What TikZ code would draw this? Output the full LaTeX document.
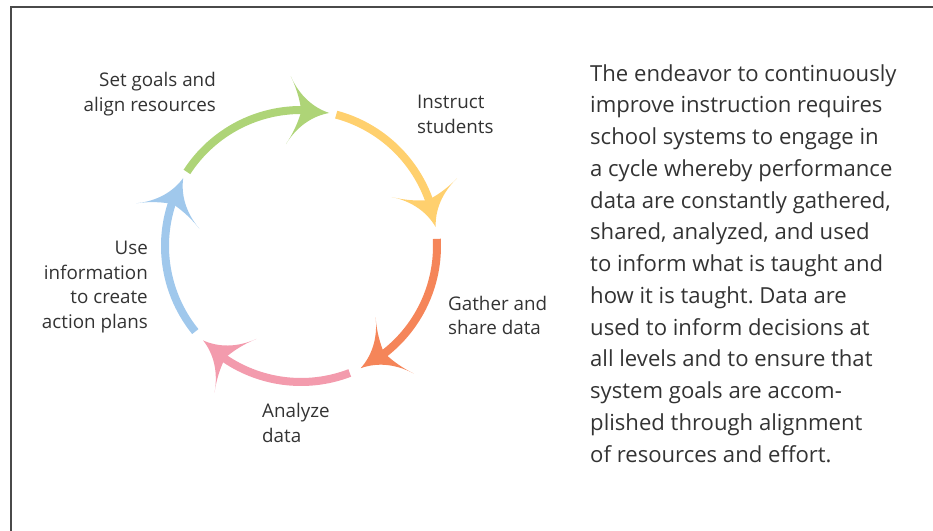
\documentclass[tikz,border=0pt]{standalone}
\usepackage{fontspec}
\setmainfont{Open Sans}
\usetikzlibrary{calc}
\frenchspacing

\definecolor{cgreen}{HTML}{AED477}
\definecolor{cyellow}{HTML}{FFD06E}
\definecolor{corange}{HTML}{F58559}
\definecolor{cpink}{HTML}{F39BAD}
\definecolor{cblue}{HTML}{A0C8EC}
\definecolor{textgray}{HTML}{333333}
\definecolor{framegray}{HTML}{4A4A4A}

\tikzset{
  shaft/.style={line width=8bp, line cap=butt},
  steplabel/.style={inner sep=0pt, text=textgray, font=\fontsize{18.8bp}{24.8bp}\selectfont},
  bodytext/.style={inner sep=0pt, text=textgray, align=left,
    font=\fontsize{22.1bp}{31.75bp}\selectfont},
  cyclehead/.pic={
    \fill (0,0) .. controls (-16,4) and (-31,15) .. (-41,34)
          .. controls (-33,20) and (-30,9) .. (-28,0)
          .. controls (-30,-9) and (-33,-20) .. (-41,-34)
          .. controls (-31,-15) and (-16,-4) .. (0,0) -- cycle;
  }
}

% one arrow of the cycle: colour, start angle, tip angle
\newcommand\cyclearrow[3]{%
  \coordinate (s#1) at ($(C)+(#2:136)$);
  \coordinate (t#1) at ($(C)+(#3:136)$);
  \draw[shaft, #1] (s#1) arc[start angle=#2, end angle=#3+10, radius=136];
  \pic[fill=#1, rotate=#3-82] at (t#1) {cyclehead};
}

\begin{document}
\begin{tikzpicture}[x=1bp, y=1bp]
  \useasboundingbox (0,0) rectangle (933,531);

  % frame (top and left rules)
  \draw[framegray, line width=1.6bp] (11,0) -- (11,524) -- (933,524);

  % the cycle
  \coordinate (C) at (301,285);
  \cyclearrow{cgreen}{147}{78}
  \cyclearrow{cyellow}{75}{8}
  \cyclearrow{corange}{3}{-64}
  \cyclearrow{cpink}{-69}{-136}
  \cyclearrow{cblue}{-141}{-210}

  % step labels
  \node[steplabel, anchor=east, align=right] (goals) at (216,437)
    {Set goals and\\align resources};
  \node[steplabel, anchor=west, align=left] (instruct) at (417,417)
    {Instruct\\students};
  \node[steplabel, anchor=west, align=left] (gather) at (448,215.5)
    {Gather and\\share data};
  \node[steplabel, anchor=west, align=left] (analyze) at (262,108)
    {Analyze\\data};
  \node[steplabel, anchor=east, align=right] (use) at (148,244)
    {Use\\information\\to create\\action plans};

  % description
  \node[bodytext, anchor=west] (desc) at (590,267.5)
    {The endeavor to continuously\\
     improve instruction requires\\
     school systems to engage in\\
     a cycle whereby performance\\
     data are constantly gathered,\\
     shared, analyzed, and used\\
     to inform what is taught and\\
     how it is taught. Data are\\
     used to inform decisions at\\
     all levels and to ensure that\\
     system goals are accom-\\
     plished through alignment\\
     of resources and effort.};
\end{tikzpicture}
\end{document}
